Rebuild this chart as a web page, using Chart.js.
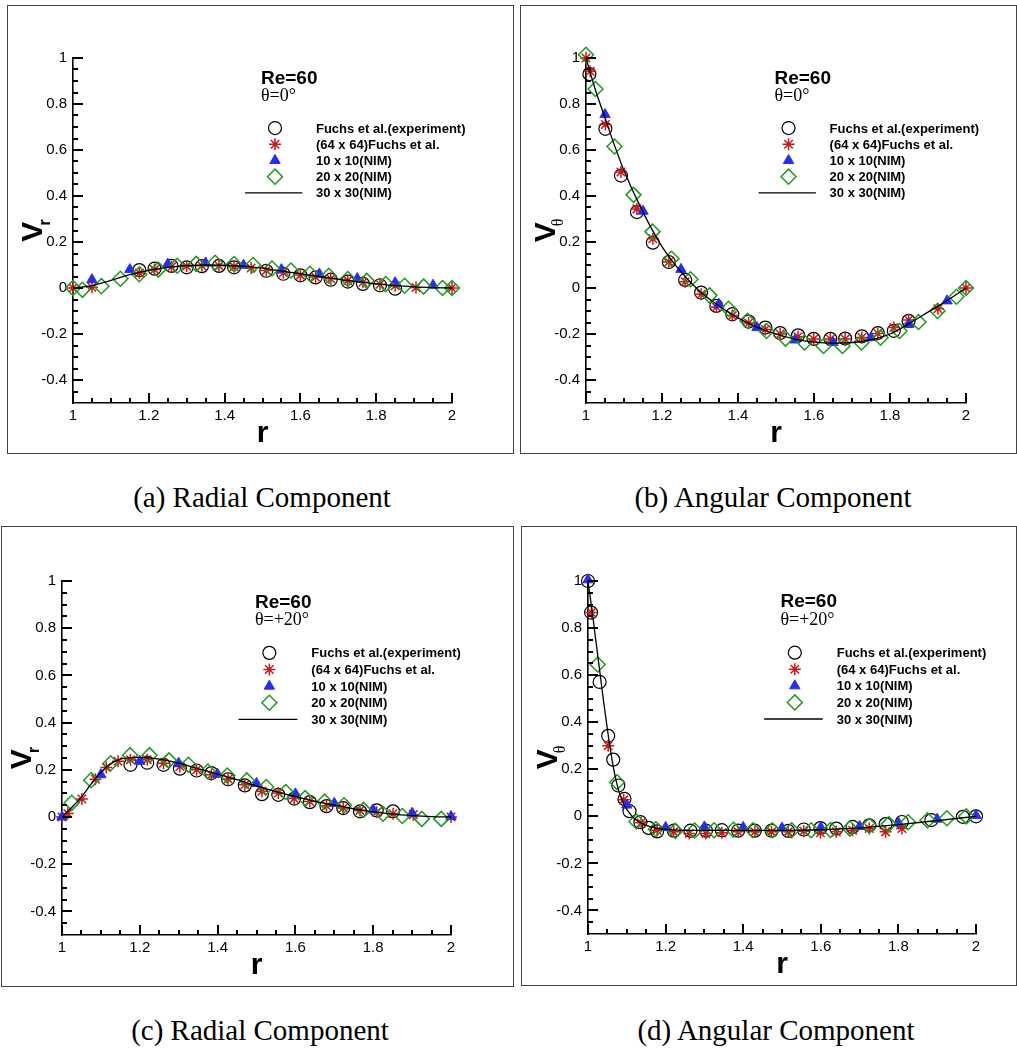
<!DOCTYPE html>
<html>
<head>
<meta charset="utf-8">
<script src="https://cdn.jsdelivr.net/npm/chart.js@4/dist/chart.umd.min.js"></script>
<style>
  html, body { margin: 0; padding: 0; background: #fff; }
  body { width: 1017px; height: 1050px; position: relative; overflow: hidden; }
  canvas { position: absolute; }
  .caption {
    position: absolute; width: 500px; text-align: center;
    font-family: "Liberation Serif", "Times New Roman", serif;
    font-size: 29px; line-height: 34px; color: #000;
  }
</style>
</head>
<body>
<canvas id="panelA" width="507" height="449" style="left:7px; top:5px;"></canvas>
<canvas id="panelB" width="497" height="449" style="left:520px; top:5px;"></canvas>
<canvas id="panelC" width="513" height="461" style="left:1px; top:526px;"></canvas>
<canvas id="panelD" width="496" height="460" style="left:521px; top:526px;"></canvas>
<div class="caption" style="left:12px; top:480px;">(a) Radial Component</div>
<div class="caption" style="left:523px; top:480px;">(b) Angular Component</div>
<div class="caption" style="left:10px; top:1013px;">(c) Radial Component</div>
<div class="caption" style="left:526px; top:1013px;">(d) Angular Component</div>
<script>
// Libellés communs
const legendLabels = ['Fuchs et al.(experiment)', '(64 x 64)Fuchs et al.', '10 x 10(NIM)', '20 x 20(NIM)', '30 x 30(NIM)'];
const xTicks = [1, 1.2, 1.4, 1.6, 1.8, 2];
const xTickLabels = ['1', '1.2', '1.4', '1.6', '1.8', '2'];
const yTicks = [-0.4, -0.2, 0, 0.2, 0.4, 0.6, 0.8, 1];
const yTickLabels = ['-0.4', '-0.2', '0', '0.2', '0.4', '0.6', '0.8', '1'];

// (a) Vr, theta = 0
const expA_r = [1.175, 1.215, 1.26, 1.30, 1.34, 1.385, 1.425, 1.51, 1.555, 1.60, 1.64, 1.68, 1.725, 1.765, 1.81, 1.85];
const expA_v = [0.078, 0.084, 0.096, 0.09, 0.095, 0.096, 0.09, 0.075, 0.062, 0.055, 0.046, 0.036, 0.028, 0.018, 0.012, -0.003];
const fuchsA_r = [1.0, 1.05, 1.175, 1.215, 1.26, 1.30, 1.34, 1.385, 1.425, 1.47, 1.51, 1.555, 1.60, 1.64, 1.68, 1.725, 1.765, 1.81, 1.85, 1.905, 2.0];
const fuchsA_v = [0, 0.003, 0.065, 0.08, 0.092, 0.095, 0.097, 0.097, 0.093, 0.087, 0.076, 0.066, 0.056, 0.048, 0.04, 0.032, 0.025, 0.016, 0.01, 0.002, 0];
const nim10A_r = [1.05, 1.15, 1.25, 1.35, 1.45, 1.55, 1.65, 1.75, 1.85, 1.95];
const nim10A_v = [0.036, 0.08, 0.104, 0.109, 0.099, 0.08, 0.061, 0.041, 0.023, 0.012];
const nim20A_r = [1.0, 1.025, 1.075, 1.125, 1.175, 1.225, 1.275, 1.325, 1.375, 1.425, 1.475, 1.525, 1.575, 1.625, 1.675, 1.725, 1.775, 1.825, 1.875, 1.925, 1.975, 2.0];
const nim20A_v = [0, -0.008, 0.008, 0.04, 0.06, 0.08, 0.097, 0.105, 0.11, 0.104, 0.1, 0.085, 0.076, 0.062, 0.053, 0.039, 0.031, 0.017, 0.01, 0.006, 0, 0];
const lineA_r = [1.0, 1.05, 1.1, 1.15, 1.2, 1.25, 1.3, 1.35, 1.4, 1.45, 1.5, 1.55, 1.6, 1.65, 1.7, 1.75, 1.8, 1.85, 1.9, 1.95, 2.0];
const lineA_v = [0, 0.01, 0.033, 0.058, 0.077, 0.09, 0.097, 0.1, 0.099, 0.095, 0.086, 0.074, 0.062, 0.05, 0.038, 0.028, 0.018, 0.01, 0.005, 0.002, 0];

// (b) Vtheta, theta = 0
const expB_r = [1.009, 1.051, 1.092, 1.134, 1.176, 1.218, 1.261, 1.303, 1.343, 1.385, 1.428, 1.472, 1.511, 1.558, 1.599, 1.643, 1.682, 1.726, 1.768, 1.81, 1.849];
const expB_v = [0.93, 0.692, 0.489, 0.33, 0.197, 0.113, 0.035, -0.02, -0.078, -0.114, -0.146, -0.172, -0.196, -0.206, -0.221, -0.221, -0.22, -0.21, -0.196, -0.186, -0.143];
const fuchsB_r = [1.0, 1.011, 1.051, 1.092, 1.134, 1.176, 1.218, 1.261, 1.303, 1.343, 1.385, 1.428, 1.472, 1.511, 1.558, 1.599, 1.643, 1.682, 1.726, 1.768, 1.81, 1.849, 1.926, 2.0];
const fuchsB_v = [1.0, 0.942, 0.711, 0.504, 0.344, 0.214, 0.113, 0.027, -0.027, -0.083, -0.12, -0.152, -0.18, -0.2, -0.212, -0.222, -0.222, -0.222, -0.215, -0.198, -0.172, -0.139, -0.09, 0];
const nim10B_r = [1.05, 1.15, 1.25, 1.35, 1.45, 1.55, 1.65, 1.75, 1.85, 1.95];
const nim10B_v = [0.754, 0.334, 0.081, -0.071, -0.172, -0.226, -0.237, -0.216, -0.158, -0.056];
const nim20B_r = [1.0, 1.025, 1.075, 1.125, 1.175, 1.225, 1.275, 1.325, 1.375, 1.425, 1.475, 1.525, 1.575, 1.625, 1.675, 1.725, 1.775, 1.825, 1.875, 1.925, 1.975, 2.0];
const nim20B_v = [1.014, 0.865, 0.615, 0.405, 0.245, 0.127, 0.038, -0.032, -0.09, -0.143, -0.187, -0.22, -0.237, -0.252, -0.252, -0.237, -0.216, -0.187, -0.148, -0.1, -0.038, 0];
const lineB_r = [1.0, 1.025, 1.05, 1.075, 1.1, 1.15, 1.2, 1.25, 1.3, 1.35, 1.4, 1.45, 1.5, 1.55, 1.6, 1.65, 1.7, 1.75, 1.8, 1.85, 1.9, 1.95, 2.0];
const lineB_v = [1.0, 0.86, 0.74, 0.62, 0.51, 0.33, 0.18, 0.07, -0.015, -0.078, -0.13, -0.17, -0.2, -0.222, -0.235, -0.24, -0.237, -0.225, -0.2, -0.155, -0.105, -0.055, 0];

// (c) Vr, theta = +20
const expC_r = [1.176, 1.219, 1.261, 1.303, 1.346, 1.384, 1.427, 1.47, 1.514, 1.556, 1.597, 1.637, 1.68, 1.723, 1.766, 1.809, 1.851];
const expC_v = [0.221, 0.23, 0.221, 0.205, 0.197, 0.186, 0.16, 0.134, 0.097, 0.094, 0.078, 0.063, 0.046, 0.038, 0.024, 0.028, 0.024];
const fuchsC_r = [1.0, 1.015, 1.051, 1.086, 1.114, 1.144, 1.176, 1.219, 1.261, 1.303, 1.346, 1.384, 1.427, 1.47, 1.514, 1.556, 1.597, 1.637, 1.68, 1.723, 1.766, 1.809, 1.851, 1.903, 2.0];
const fuchsC_v = [0, 0.015, 0.076, 0.16, 0.21, 0.236, 0.243, 0.243, 0.228, 0.214, 0.2, 0.179, 0.161, 0.137, 0.109, 0.102, 0.078, 0.066, 0.048, 0.038, 0.028, 0.02, 0.014, 0.01, 0];
const nim10C_r = [1.0, 1.1, 1.2, 1.3, 1.4, 1.5, 1.6, 1.7, 1.8, 1.9, 2.0];
const nim10C_v = [0, 0.179, 0.236, 0.228, 0.181, 0.142, 0.098, 0.058, 0.03, 0.016, 0.002];
const nim20C_r = [1.025, 1.075, 1.125, 1.175, 1.225, 1.275, 1.325, 1.375, 1.425, 1.475, 1.525, 1.575, 1.625, 1.675, 1.725, 1.775, 1.825, 1.875, 1.925, 1.975];
const nim20C_v = [0.06, 0.156, 0.228, 0.262, 0.262, 0.24, 0.221, 0.193, 0.176, 0.155, 0.127, 0.106, 0.08, 0.065, 0.05, 0.03, 0.014, 0.004, -0.008, -0.008];
const lineC_r = [1.0, 1.025, 1.05, 1.075, 1.1, 1.125, 1.15, 1.175, 1.2, 1.25, 1.3, 1.35, 1.4, 1.45, 1.5, 1.55, 1.6, 1.65, 1.7, 1.75, 1.8, 1.85, 1.9, 1.95, 2.0];
const lineC_v = [0, 0.04, 0.085, 0.14, 0.19, 0.225, 0.245, 0.252, 0.253, 0.245, 0.228, 0.205, 0.182, 0.158, 0.132, 0.108, 0.087, 0.067, 0.05, 0.035, 0.022, 0.012, 0.006, 0.002, 0];

// (d) Vtheta, theta = +20
const expD_r = [1.0, 1.008, 1.03, 1.052, 1.065, 1.078, 1.094, 1.107, 1.135, 1.156, 1.178, 1.221, 1.264, 1.304, 1.345, 1.387, 1.43, 1.473, 1.516, 1.556, 1.599, 1.64, 1.682, 1.725, 1.767, 1.809, 1.885, 1.966, 2.0];
const expD_v = [1.0, 0.866, 0.571, 0.342, 0.241, 0.131, 0.074, 0.022, -0.025, -0.049, -0.064, -0.061, -0.061, -0.061, -0.059, -0.061, -0.061, -0.061, -0.062, -0.056, -0.05, -0.052, -0.045, -0.038, -0.033, -0.024, -0.016, -0.002, 0];
const fuchsD_r = [1.009, 1.052, 1.092, 1.137, 1.178, 1.221, 1.261, 1.304, 1.345, 1.387, 1.43, 1.473, 1.516, 1.556, 1.599, 1.64, 1.682, 1.725, 1.767, 1.809];
const fuchsD_v = [0.866, 0.3, 0.07, -0.027, -0.059, -0.066, -0.073, -0.073, -0.07, -0.066, -0.066, -0.066, -0.066, -0.063, -0.07, -0.066, -0.059, -0.052, -0.066, -0.052];
const nim10D_r = [1.0, 1.1, 1.2, 1.3, 1.4, 1.5, 1.6, 1.7, 1.8, 1.9, 2.0];
const nim10D_v = [1.005, 0.048, -0.047, -0.045, -0.047, -0.05, -0.047, -0.043, -0.028, -0.012, 0.004];
const nim20D_r = [1.025, 1.075, 1.125, 1.175, 1.225, 1.275, 1.325, 1.375, 1.425, 1.475, 1.525, 1.575, 1.625, 1.675, 1.725, 1.775, 1.825, 1.875, 1.925, 1.975];
const nim20D_v = [0.645, 0.145, -0.022, -0.055, -0.062, -0.06, -0.059, -0.057, -0.059, -0.059, -0.059, -0.059, -0.058, -0.052, -0.04, -0.033, -0.025, -0.017, -0.008, 0];
const lineD_r = [1.0, 1.01, 1.02, 1.03, 1.04, 1.05, 1.06, 1.07, 1.08, 1.09, 1.1, 1.12, 1.15, 1.2, 1.3, 1.4, 1.5, 1.6, 1.7, 1.8, 1.9, 2.0];
const lineD_v = [1.0, 0.88, 0.75, 0.62, 0.49, 0.37, 0.26, 0.17, 0.105, 0.06, 0.03, -0.01, -0.038, -0.055, -0.06, -0.06, -0.06, -0.057, -0.049, -0.035, -0.018, 0];

// Styles des séries
const STYLES = [
    { pointStyle: 'circle',   radius: 6.5, color: '#000000', fill: 'rgba(0,0,0,0)', width: 1.2 },
    { pointStyle: 'star',     radius: 6,   color: '#c81818', fill: 'rgba(0,0,0,0)', width: 1.5 },
    { pointStyle: 'triangle', radius: 6,   color: '#2b2bf0', fill: '#2b2bf0',       width: 1 },
    { pointStyle: 'rectRot',  radius: 7.5, color: '#1f9a1f', fill: 'rgba(0,0,0,0)', width: 1.5 }
];
const FONT_SANS = '"Liberation Sans", Arial, sans-serif';
const FONT_SERIF = '"Liberation Serif", "Times New Roman", serif';

function pts(rs, vs) {
    return rs.map((r, i) => ({ x: r, y: vs[i] }));
}

// Petits ticks vers l'intérieur (majeurs tous les 0.2, mineurs tous les 0.05)
const innerTicks = {
    id: 'innerTicks',
    afterDatasetsDraw(chart) {
        const ctx = chart.ctx;
        const ca = chart.chartArea;
        const xs = chart.scales.x, ys = chart.scales.y;
        ctx.save();
        ctx.fillStyle = '#000';
        for (let i = 0; i <= 20; i++) {
            const px = Math.round(xs.getPixelForValue(1 + i * 0.05));
            const len = i % 4 === 0 ? 10 : 5;
            ctx.fillRect(px - 1, ca.bottom - len, 2, len);
        }
        for (let i = 1; i <= 30; i++) {
            const py = Math.round(ys.getPixelForValue(-0.5 + i * 0.05));
            const len = (i - 2) % 4 === 0 ? 10 : 5;
            ctx.fillRect(ca.left, py - 1, len, 2);
        }
        ctx.restore();
    }
};

// Titres, cadre, annotation et légende
const panelDecor = {
    id: 'panelDecor',
    afterDraw(chart, args, opts) {
        const ctx = chart.ctx;
        const ca = chart.chartArea;
        const w = ca.right - ca.left, h = ca.bottom - ca.top;
        ctx.save();

        // cadre
        ctx.strokeStyle = '#444';
        ctx.lineWidth = 1;
        ctx.strokeRect(0.5, 0.5, chart.width - 1, chart.height - 1);

        ctx.fillStyle = '#000';
        // titre axe x
        ctx.font = 'bold 30px ' + FONT_SANS;
        ctx.textAlign = 'center';
        ctx.textBaseline = 'alphabetic';
        ctx.fillText('r', (ca.left + ca.right) / 2, ca.bottom + 39);

        // titre axe y : V + indice
        ctx.save();
        ctx.translate(ca.left - 31, (ca.top + ca.bottom) / 2);
        ctx.rotate(-Math.PI / 2);
        ctx.textAlign = 'left';
        ctx.font = 'bold 30px ' + FONT_SANS;
        const vW = ctx.measureText('V').width;
        ctx.font = opts.subFont;
        const sW = ctx.measureText(opts.sub).width;
        const start = -(vW * 0.8 + sW) / 2;
        ctx.font = 'bold 30px ' + FONT_SANS;
        ctx.fillText('V', start, 0);
        ctx.font = opts.subFont;
        ctx.fillText(opts.sub, start + vW * 0.8, 8);
        ctx.restore();

        // annotation
        const ax = ca.left + 0.496 * w;
        ctx.textAlign = 'left';
        ctx.font = 'bold 19px ' + FONT_SANS;
        ctx.fillText('Re=60', ax, ca.top + 0.075 * h);
        ctx.font = '18px ' + FONT_SERIF;
        ctx.fillText(opts.angle, ax, ca.top + 0.125 * h);

        // légende
        const mx = ca.left + 0.533 * w;
        const tx = ca.left + 0.641 * w;
        ctx.font = 'bold 13px ' + FONT_SANS;
        ctx.textBaseline = 'middle';
        chart.data.datasets.forEach((ds, i) => {
            const ry = ca.top + (0.203 + 0.047 * i) * h;
            if (i < STYLES.length) {
                const s = STYLES[i];
                ctx.strokeStyle = s.color;
                ctx.fillStyle = s.fill;
                ctx.lineWidth = s.width;
                Chart.helpers.drawPoint(ctx, { pointStyle: s.pointStyle, radius: s.radius, rotation: 0, borderWidth: s.width }, mx, ry);
            } else {
                ctx.strokeStyle = '#000';
                ctx.lineWidth = 1.3;
                ctx.beginPath();
                ctx.moveTo(ca.left + 0.454 * w, ry);
                ctx.lineTo(ca.left + 0.605 * w, ry);
                ctx.stroke();
            }
            ctx.fillStyle = '#000';
            ctx.fillText(ds.label, tx, ry + 1);
        });
        ctx.restore();
    }
};

function makePanel(canvasId, series, line, geom, deco) {
    const datasets = series.map((s, i) => ({
        label: legendLabels[i],
        data: pts(s[0], s[1]),
        showLine: false,
        pointStyle: STYLES[i].pointStyle,
        pointRadius: STYLES[i].radius,
        pointBorderColor: STYLES[i].color,
        pointBackgroundColor: STYLES[i].fill,
        pointBorderWidth: STYLES[i].width,
        borderColor: STYLES[i].color,
        backgroundColor: STYLES[i].fill,
        clip: false,
        order: 5 - i
    }));
    datasets.push({
        label: legendLabels[4],
        data: pts(line[0], line[1]),
        showLine: true,
        borderColor: '#000',
        borderWidth: 1.3,
        pointRadius: 0,
        cubicInterpolationMode: 'monotone',
        clip: false,
        order: 0
    });

    new Chart(document.getElementById(canvasId), {
        type: 'scatter',
        data: { datasets },
        options: {
            responsive: false,
            animation: false,
            events: [],
            layout: { padding: { top: geom.top, right: geom.right, left: 0, bottom: 0 } },
            plugins: {
                legend: { display: false },
                tooltip: { enabled: false },
                panelDecor: deco
            },
            scales: {
                x: {
                    type: 'linear', min: 1, max: 2,
                    afterBuildTicks: s => { s.ticks = xTicks.map(v => ({ value: v })); },
                    afterFit: s => { s.height = geom.xh; },
                    ticks: {
                        autoSkip: false, maxRotation: 0, padding: 4, color: '#000',
                        font: { family: FONT_SANS, size: 15 },
                        callback: (v, i) => xTickLabels[i]
                    },
                    grid: { display: false, drawTicks: false },
                    border: { display: true, color: '#000', width: 1.6 }
                },
                y: {
                    type: 'linear', min: -0.5, max: 1,
                    afterBuildTicks: s => { s.ticks = yTicks.map(v => ({ value: v })); },
                    afterFit: s => { s.width = geom.yw; },
                    ticks: {
                        autoSkip: false, padding: 6, color: '#000',
                        font: { family: FONT_SANS, size: 15 },
                        callback: (v, i) => yTickLabels[i]
                    },
                    grid: { display: false, drawTicks: false },
                    border: { display: true, color: '#000', width: 1.6 }
                }
            }
        },
        plugins: [innerTicks, panelDecor]
    });
}

makePanel('panelA',
    [[expA_r, expA_v], [fuchsA_r, fuchsA_v], [nim10A_r, nim10A_v], [nim20A_r, nim20A_v]],
    [lineA_r, lineA_v],
    { top: 53, right: 62, yw: 66, xh: 51 },
    { sub: 'r', subFont: 'bold 17px ' + FONT_SANS, angle: 'θ=0°' });

makePanel('panelB',
    [[expB_r, expB_v], [fuchsB_r, fuchsB_v], [nim10B_r, nim10B_v], [nim20B_r, nim20B_v]],
    [lineB_r, lineB_v],
    { top: 53, right: 51, yw: 66, xh: 51 },
    { sub: 'θ', subFont: '16px ' + FONT_SERIF, angle: 'θ=0°' });

makePanel('panelC',
    [[expC_r, expC_v], [fuchsC_r, fuchsC_v], [nim10C_r, nim10C_v], [nim20C_r, nim20C_v]],
    [lineC_r, lineC_v],
    { top: 55, right: 63, yw: 61, xh: 52 },
    { sub: 'r', subFont: 'bold 17px ' + FONT_SANS, angle: 'θ=+20°' });

makePanel('panelD',
    [[expD_r, expD_v], [fuchsD_r, fuchsD_v], [nim10D_r, nim10D_v], [nim20D_r, nim20D_v]],
    [lineD_r, lineD_v],
    { top: 55, right: 41, yw: 67, xh: 52 },
    { sub: 'θ', subFont: '16px ' + FONT_SERIF, angle: 'θ=+20°' });
</script>
</body>
</html>
